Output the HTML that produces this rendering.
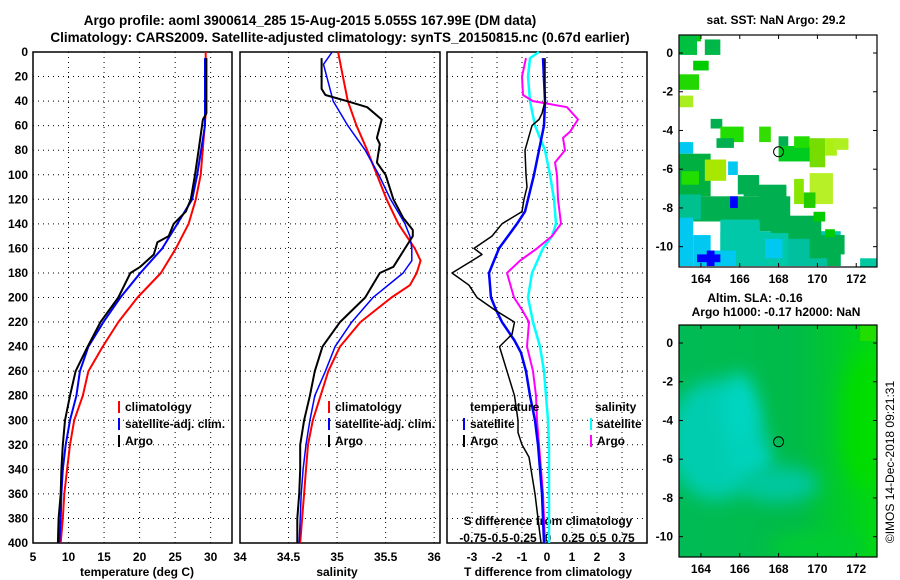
<!DOCTYPE html>
<html><head><meta charset="utf-8"><style>
html,body{margin:0;padding:0;background:#fff;}
svg{display:block;font-family:"Liberation Sans",sans-serif;font-weight:bold;}
</style></head><body>
<svg id="fig" width="900" height="580" viewBox="0 0 900 580">
<text x="310" y="25" font-size="13.5" text-anchor="middle">Argo profile: aoml 3900614_285 15-Aug-2015 5.055S 167.99E (DM data)</text>
<text x="340" y="42" font-size="13.5" text-anchor="middle">Climatology: CARS2009. Satellite-adjusted climatology: synTS_20150815.nc (0.67d earlier)</text>
<g id="layer"></g>
</svg>
<script>
// ---- profile data ----
const tDepthsClim=[0,50,100,120,140,160,180,200,220,240,260,280,300,320,340,360,380,400];
const tClim=[29.3,29.3,28.6,27.9,26.9,25.1,23.0,19.7,17.0,14.8,12.8,12.0,10.8,10.2,9.8,9.4,9.2,8.9];
const tDepthsSat=[5,60,100,120,140,160,180,200,220,240,260,280,300,320,340,360,380,400];
const tSat=[29.2,29.2,28.1,27.4,25.3,23.2,20.1,17.3,14.9,12.8,11.6,11.1,10.2,9.6,9.2,9.0,8.9,8.7];
const tDepthsArgo=[5,50,55,80,100,120,130,140,150,155,165,175,180,200,220,240,260,280,300,320,340,360,380,400];
const tArgo=[29.4,29.4,28.9,28.3,27.8,27.2,26.5,24.8,24.1,22.5,22.0,20.1,18.7,17.0,14.5,12.7,11.0,10.2,9.5,9.2,9.0,8.9,8.6,8.5];
const sDepthsClim=[0,20,40,60,80,100,120,140,160,170,180,190,200,220,240,260,280,300,320,340,360,380,400];
const sClim=[35.01,35.06,35.11,35.20,35.31,35.41,35.51,35.63,35.80,35.86,35.82,35.75,35.56,35.24,35.03,34.91,34.83,34.75,34.70,34.68,34.66,34.64,34.62];
const sDepthsSat=[0,10,40,60,80,100,120,140,150,160,170,180,200,220,240,260,280,300,320,340,360,380,400];
const sSat=[34.95,34.86,34.96,35.11,35.29,35.43,35.55,35.70,35.75,35.77,35.77,35.68,35.37,35.15,34.98,34.88,34.77,34.72,34.68,34.65,34.63,34.62,34.61];
const sDepthsArgo=[5,30,35,40,45,55,70,75,90,100,120,135,145,150,160,175,180,200,220,240,260,280,300,320,340,360,380,400];
const sArgo=[34.84,34.84,34.88,35.10,35.31,35.46,35.41,35.44,35.41,35.50,35.58,35.68,35.78,35.78,35.70,35.58,35.44,35.29,35.03,34.85,34.77,34.72,34.66,34.62,34.62,34.61,34.59,34.59];
// differences
const dtDepthsSat=[5,40,60,80,100,120,130,140,160,180,200,210,220,235,245,260,280,300,320,340,360,380,400];
const dtSat=[-0.16,-0.08,-0.12,-0.32,-0.52,-0.76,-0.88,-1.2,-1.92,-2.32,-2.24,-2.04,-1.8,-1.3,-1.04,-0.84,-0.68,-0.48,-0.36,-0.28,-0.2,-0.16,-0.12];
const dtDepthsArgo=[5,40,50,55,60,80,100,110,120,130,140,150,160,165,170,180,190,200,210,220,230,240,260,280,300,310,320,330,340,360,380,400];
const dtArgo=[-0.08,-0.08,-0.2,-0.32,-0.6,-0.88,-0.84,-0.8,-0.92,-1.0,-1.8,-2.2,-2.92,-2.6,-3.0,-3.8,-3.12,-2.8,-2.1,-1.3,-1.4,-1.9,-1.6,-1.3,-1.16,-1.16,-1.0,-0.72,-0.64,-0.48,-0.36,-0.24];
const dsDepthsSat=[0,5,20,40,60,80,100,120,140,150,160,180,200,220,240,260,280,300,320,340,360,380,400];
const dsSat=[-0.09,-0.18,-0.2,-0.18,-0.13,-0.03,0.02,0.06,0.08,0.04,-0.05,-0.16,-0.2,-0.15,-0.08,-0.04,-0.02,0,0.01,0.01,0.01,0.01,0.01];
const dsDepthsArgo=[5,20,35,40,45,55,65,70,80,90,100,120,140,150,160,170,180,200,210,220,240,260,280,300,320,340,360,380,400];
const dsArgo=[-0.22,-0.26,-0.25,-0.15,0.19,0.30,0.22,0.15,0.17,0.07,0.09,0.10,0.13,0.04,-0.11,-0.28,-0.41,-0.34,-0.26,-0.19,-0.21,-0.15,-0.12,-0.11,-0.09,-0.07,-0.05,-0.04,-0.03];
const depthTicks=[0,20,40,60,80,100,120,140,160,180,200,220,240,260,280,300,320,340,360,380,400];
const tTicks=[5,10,15,20,25,30];
const sTicks=[34,34.5,35,35.5,36];
const dtTicks=[-3,-2,-1,0,1,2,3];
const dsTicks=[-0.75,-0.5,-0.25,0,0.25,0.5,0.75];
const dsTickLabels=["-0.75","-0.5","-0.25","0","0.25","0.5","0.75"];

const NS="http://www.w3.org/2000/svg";
const L=document.getElementById('layer');
function el(tag,attrs,parent){const e=document.createElementNS(NS,tag);for(const k in attrs)e.setAttribute(k,attrs[k]);(parent||L).appendChild(e);return e;}
function txt(s,x,y,attrs,parent){const e=el('text',Object.assign({x:x,y:y,'font-size':12},attrs||{}),parent);e.textContent=s;return e;}

const plotTop=52,plotBot=543;
const yD=d=>plotTop+(d/400)*(plotBot-plotTop);
const panels=[
 {x0:33,x1:232,min:5,max:33,name:'temperature'},
 {x0:240,x1:440,min:34,max:36.06,name:'salinity'},
 {x0:447,x1:647,min:-4,max:4,name:'difference'}
];
function sx(p,v){return p.x0+(v-p.min)/(p.max-p.min)*(p.x1-p.x0);}
const dsScale=v=>548+v*100;

panels.forEach((p,i)=>{
  const g=el('g',{});
  
  
  depthTicks.forEach(d=>{
    if(d===0||d===400)return;
    const ln=el('line',{x1:p.x0,x2:p.x1,y1:yD(d),y2:yD(d),stroke:'#000','stroke-width':1,'stroke-dasharray':'1,4'},g);
    
    
  });
  const xt=i===0?tTicks:i===1?sTicks:dtTicks;
  xt.forEach(v=>{
    const x=sx(p,v);
    if(x>p.x0+1&&x<p.x1-1){
      const ln=el('line',{x1:x,x2:x,y1:plotTop,y2:plotBot,stroke:'#000','stroke-width':1,'stroke-dasharray':'1,4'},g);
      
      
    }
    const t=txt(String(v),x,561,{'text-anchor':'middle'},g);
    
    
  });
  const fr=el('rect',{x:p.x0,y:plotTop,width:p.x1-p.x0,height:plotBot-plotTop,fill:'none',stroke:'#000','stroke-width':1.5},g);
  
  
});
depthTicks.forEach(d=>{
  const t=txt(String(d),28,yD(d)+4,{'text-anchor':'end'});
  
  
});
let t;
t=txt('temperature (deg C)',137,576,{'text-anchor':'middle'});


t=txt('salinity',337,576,{'text-anchor':'middle'});


t=txt('T difference from climatology',548,576,{'text-anchor':'middle'});


t=txt('S difference from climatology',548,525,{'text-anchor':'middle'});


dsTicks.forEach((v,i)=>{
  const e=txt(dsTickLabels[i],dsScale(v),542,{'text-anchor':'middle'});
  
  
});

function line(depths,vals,fx,color,w,name){
  const pts=depths.map((d,i)=>fx(vals[i]).toFixed(1)+','+yD(d).toFixed(1)).join(' ');
  const e=el('polyline',{points:pts,fill:'none',stroke:color,'stroke-width':w,'stroke-linejoin':'round'});
  
  
}
const P0=v=>sx(panels[0],v),P1=v=>sx(panels[1],v),P2=v=>sx(panels[2],v);
line(tDepthsClim,tClim,P0,'#f00',2,'temperature-climatology-line');
line(tDepthsSat,tSat,P0,'#00f',2,'temperature-satellite-line');
line(tDepthsArgo,tArgo,P0,'#000',2,'temperature-argo-line');
line(sDepthsClim,sClim,P1,'#f00',2,'salinity-climatology-line');
line(sDepthsSat,sSat,P1,'#00f',1.5,'salinity-satellite-line');
line(sDepthsArgo,sArgo,P1,'#000',2,'salinity-argo-line');
line(dsDepthsSat,dsSat,dsScale,'#0ff',2.5,'s-diff-satellite-line');
line(dsDepthsArgo,dsArgo,dsScale,'#f0f',2,'s-diff-argo-line');
line(dtDepthsSat,dtSat,P2,'#00f',2.5,'t-diff-satellite-line');
line(dtDepthsArgo,dtArgo,P2,'#000',1.5,'t-diff-argo-line');

function legend(x,y,color,label,name){
  const g=el('g',{});
  
  
  el('rect',{x:x,y:y-10,width:2,height:12,fill:color},g);
  txt(label,x+7,y,{},g);
}
legend(118,411,'#f00','climatology','legend-entry-climatology');
legend(118,428,'#00f','satellite-adj. clim.','legend-entry-satellite');
legend(118,445,'#000','Argo','legend-entry-argo');
legend(328,411,'#f00','climatology','legend-entry-climatology');
legend(328,428,'#00f','satellite-adj. clim.','legend-entry-satellite');
legend(328,445,'#000','Argo','legend-entry-argo');
t=txt('temperature',470,411,{});


t=txt('salinity',595,411,{});


legend(463,428,'#00f','satellite','legend-entry-t-satellite');
legend(463,445,'#000','Argo','legend-entry-t-argo');
legend(590,428,'#0ff','satellite','legend-entry-s-satellite');
legend(590,445,'#f0f','Argo','legend-entry-s-argo');

// ---- maps ----
function mapAxes(m){
  const lonX=lon=>m.x0+(lon-162.87)/(173.07-162.87)*(m.x1-m.x0);
  const latY=lat=>m.y0+(m.latTop-lat)/(m.latTop-m.latBot)*(m.y1-m.y0);
  return {lonX,latY};
}
const m1={x0:679,x1:877,y0:35,y1:267,latTop:0.93,latBot:-11.05};
const m2={x0:679,x1:877,y0:325,y1:557,latTop:0.93,latBot:-11.05};
const A1=mapAxes(m1),A2=mapAxes(m2);
const mapLons=[164,166,168,170,172];
const mapLats=[0,-2,-4,-6,-8,-10];
const sstCells=[
[165,-9.2,171.2,-11,'#00c8b0'],[163,-7.4,168.6,-8.7,'#00b050'],[166.2,-6.8,168.4,-7.4,'#00b050'],[167.6,-8.4,170.2,-9.6,'#00b050'],[170,-9.4,171.4,-10.4,'#00b050'],
[162.9,0.9,163.8,-0.1,'#00c040'],[163.8,0.9,164,0.6,'#00cc00'],[164.2,0.7,165,-0.1,'#00b84a'],[163.6,-0.4,164.4,-0.9,'#00cc00'],
[162.9,-1.1,163.9,-1.9,'#22d800'],[162.9,-2.2,163.6,-2.8,'#a8ee20'],[164.5,-3.4,165.1,-3.9,'#00b050'],
[165,-3.8,166.2,-4.6,'#22dd00'],[164.8,-4.4,165.7,-4.9,'#00b050'],[167,-3.8,167.6,-4.6,'#33dd00'],
[168,-4.3,168.5,-4.8,'#00b050'],[168,-4.8,169.7,-5.6,'#00cc20'],[168.8,-4.3,169.6,-4.9,'#22dd00'],
[169.6,-4.4,170.4,-5.9,'#77dd00'],[170.4,-4.4,171,-5.3,'#aaf010'],[170.8,-4.4,171.6,-5.0,'#b0f020'],
[169.6,-6.2,170.8,-7.8,'#b8f028'],[168.8,-6.5,169.3,-7.8,'#88e600'],[169.3,-7.2,169.9,-8,'#22cc00'],[169.8,-8.2,170.4,-8.7,'#00cc00'],
[162.9,-4.6,163.6,-5.2,'#00c8f0'],[162.9,-5.2,164.5,-7.4,'#00b040'],[163,-6.1,163.9,-6.8,'#22dd00'],
[164.2,-5.5,165.3,-6.6,'#a8e800'],[165.4,-5.6,165.9,-6.3,'#00c8f0'],
[165.9,-6.3,167,-7.3,'#00b050'],[167,-6.9,168.4,-9.2,'#00b050'],
[162.9,-7.3,164,-8.6,'#00c090'],[162.9,-8.5,163.6,-11,'#00c8f0'],[163.6,-9.4,164.5,-11,'#00c8f0'],
[165,-8.6,167,-11,'#00c8a8'],[166.5,-9.3,168.5,-11,'#00c8a8'],[167.3,-9.6,168.2,-10.6,'#00c8f0'],[168.5,-9.6,170.5,-11,'#00c0a0'],
[169.6,-9.4,171.1,-10.6,'#00b050'],[170.4,-9.1,170.9,-9.5,'#00cc00'],[170.5,-10.1,171.2,-11,'#00b050'],
[164.3,-10.2,165.8,-11,'#00c8f0'],[163.8,-10.4,165,-10.8,'#0000ff'],[164.3,-10.2,164.7,-11,'#0000ff'],
[165.5,-7.4,165.9,-8,'#0000ff'],[172.2,-10.6,173.07,-11.05,'#00c8a0']
];
sstCells.forEach(c=>{
  const x=A1.lonX(c[0]),y=A1.latY(c[1]);
  const r=el('rect',{x:x,y:y,width:A1.lonX(c[2])-x,height:A1.latY(c[3])-y,fill:c[4]});
  
  
});
const defs=el('defs',{});
defs.innerHTML='<filter id="bl" x="-50%" y="-50%" width="200%" height="200%"><feGaussianBlur stdDeviation="9"/></filter><clipPath id="cp2"><rect x="679" y="325" width="198" height="232"/></clipPath><linearGradient id="slag" x1="0" x2="1" y1="0" y2="0"><stop offset="0" stop-color="#00bb55"/><stop offset="0.6" stop-color="#00bb48"/><stop offset="1" stop-color="#00d810"/></linearGradient>';
const sla=el('g',{'clip-path':'url(#cp2)'});


el('rect',{x:679,y:325,width:198,height:232,fill:'url(#slag)'},sla);
el('ellipse',{cx:A2.lonX(164.8),cy:A2.latY(-5),rx:48,ry:60,fill:'#00cdb0',filter:'url(#bl)'},sla);
el('ellipse',{cx:A2.lonX(166),cy:A2.latY(-3.5),rx:16,ry:38,fill:'#00d6c2',filter:'url(#bl)'},sla);
el('ellipse',{cx:A2.lonX(166.5),cy:A2.latY(-6),rx:22,ry:20,fill:'#00d2bc',filter:'url(#bl)'},sla);
el('ellipse',{cx:A2.lonX(168),cy:A2.latY(-7.3),rx:40,ry:18,fill:'#00c8a0',filter:'url(#bl)'},sla);
el('ellipse',{cx:A2.lonX(172.5),cy:A2.latY(-4),rx:25,ry:70,fill:'#00dd00',filter:'url(#bl)'},sla);
el('ellipse',{cx:A2.lonX(170),cy:A2.latY(-10.5),rx:50,ry:14,fill:'#00cc30',filter:'url(#bl)'},sla);
el('rect',{x:A2.lonX(172.2),y:325,width:20,height:16,fill:'#22dd00'},sla);

[[m1,A1,'sst-map'],[m2,A2,'sla-map']].forEach(([m,A,nm])=>{
  const g=el('g',{});
  
  
  el('rect',{x:m.x0,y:m.y0,width:m.x1-m.x0,height:m.y1-m.y0,fill:'none',stroke:'#000','stroke-width':1.2},g);
  mapLons.forEach(lon=>{
    const x=A.lonX(lon);
    el('line',{x1:x,x2:x,y1:m.y1,y2:m.y1-4,stroke:'#000'},g);
    el('line',{x1:x,x2:x,y1:m.y0,y2:m.y0+4,stroke:'#000'},g);
    const e=txt(String(lon),x,m.y1+16,{'text-anchor':'middle'},g);
    
    
  });
  mapLats.forEach(lat=>{
    const y=A.latY(lat);
    el('line',{x1:m.x0,x2:m.x0+4,y1:y,y2:y,stroke:'#000'},g);
    el('line',{x1:m.x1,x2:m.x1-4,y1:y,y2:y,stroke:'#000'},g);
    const e=txt(String(lat),m.x0-6,y+4,{'text-anchor':'end'},g);
    
    
  });
  const c=el('circle',{cx:A.lonX(168),cy:A.latY(-5.1),r:5,fill:'none',stroke:'#000','stroke-width':1},g);
  
  
});
t=txt('sat. SST: NaN Argo: 29.2',776,24,{'text-anchor':'middle'});


t=txt('Altim. SLA: -0.16',755,302,{'text-anchor':'middle'});


t=txt('Argo h1000: -0.17 h2000: NaN',776,316,{'text-anchor':'middle'});


t=txt('©IMOS 14-Dec-2018 09:21:31',0,0,{'text-anchor':'middle','font-weight':'normal',transform:'translate(894,462) rotate(-90)'});


</script>
</body></html>
